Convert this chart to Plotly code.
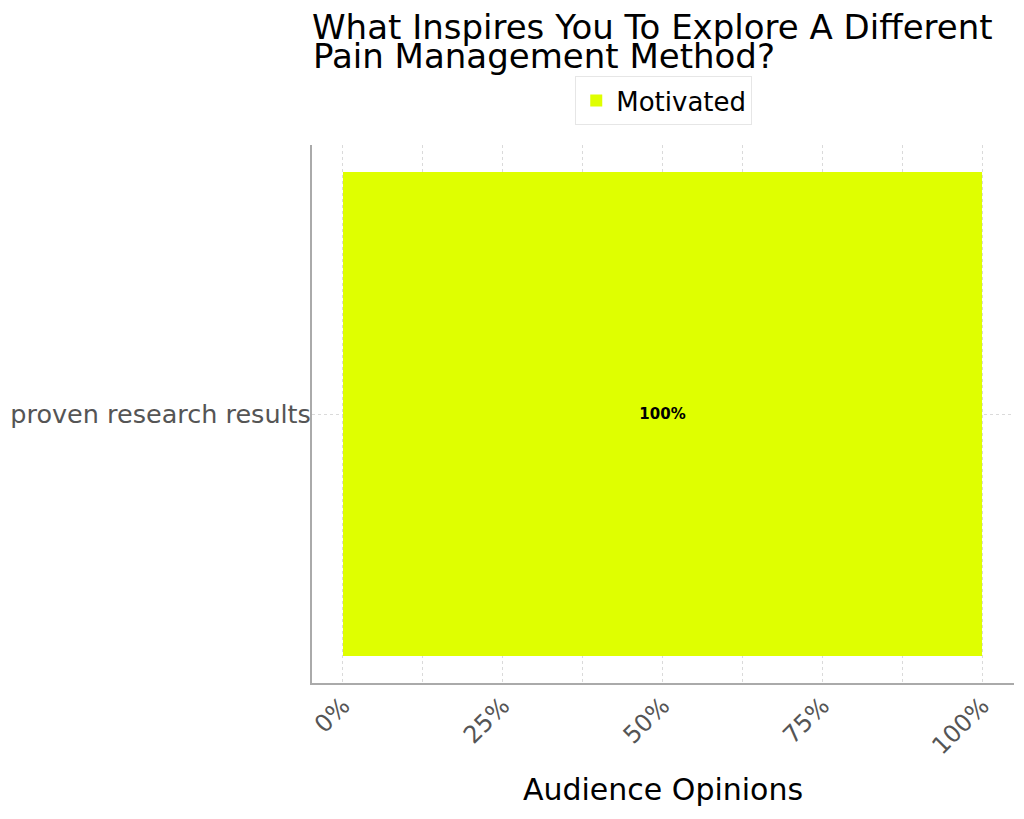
import plotly.graph_objects as go

categories = ["proven research results"]
series_name = "Motivated"
values = [100]
text_labels = ["100%"]
tick_vals = [0, 25, 50, 75, 100]
tick_text = ["0%", "25%", "50%", "75%", "100%"]
title_lines = ["What Inspires You To Explore A Different", "Pain Management Method?"]

# the page body has an 8px margin, so the figure is drawn 8px smaller and offset
W, H = 1016, 811

fig = go.Figure()
fig.add_trace(go.Bar(
    y=categories, x=values, name=series_name, orientation="h",
    marker=dict(color="#DFFF00", line=dict(width=0)),
    width=0.9,
    text=text_labels, textposition="inside", insidetextanchor="middle",
    textfont=dict(family="DejaVu Sans", size=15, color="black", weight="bold"),
))

fig.update_layout(
    width=W, height=H,
    paper_bgcolor="white", plot_bgcolor="white",
    font=dict(family="DejaVu Sans", color="black"),
    title=dict(text=title_lines[0],
               xref="paper", x=0, xanchor="left",
               yref="container", y=1 - 19 / H, yanchor="middle",
               pad=dict(l=0, r=0, t=0, b=0),
               font=dict(size=34, color="black")),
    annotations=[dict(text=title_lines[1], xref="paper", yref="paper",
                      x=0, xanchor="left", y=1 + 89 / 538, yanchor="middle",
                      showarrow=False, xshift=-1,
                      font=dict(size=34, color="black"))],
    margin=dict(l=304, r=10, t=137, b=136, autoexpand=False),
    showlegend=True,
    legend=dict(orientation="h", x=0.375, xanchor="left", y=1.128, yanchor="top",
                bordercolor="#e6e6e6", borderwidth=1,
                font=dict(size=26, color="black")),
    xaxis=dict(range=[-4.85, 105], tickvals=tick_vals, ticktext=tick_text,
               tickangle=-45, tickfont=dict(size=24, color="#555555"),
               automargin=False, ticklabelstandoff=-3,
               showgrid=True, gridcolor="#dadada", griddash="dot", gridwidth=1,
               minor=dict(dtick=12.5, tick0=0, showgrid=True, gridcolor="#dadada", griddash="dot"),
               showline=True, linecolor="#aaaaaa", linewidth=2,
               zeroline=False,
               title=dict(text="Audience Opinions", font=dict(size=30, color="black"), standoff=20)),
    yaxis=dict(range=[-0.5, 0.5], tickfont=dict(size=25.5, color="#555555"),
               automargin=False, ticklabelstandoff=-6,
               showgrid=True, gridcolor="#dadada", griddash="dot",
               showline=True, linecolor="#aaaaaa", linewidth=2,
               ticks="", ticklen=0),
)

fig.write_html("out.html")
